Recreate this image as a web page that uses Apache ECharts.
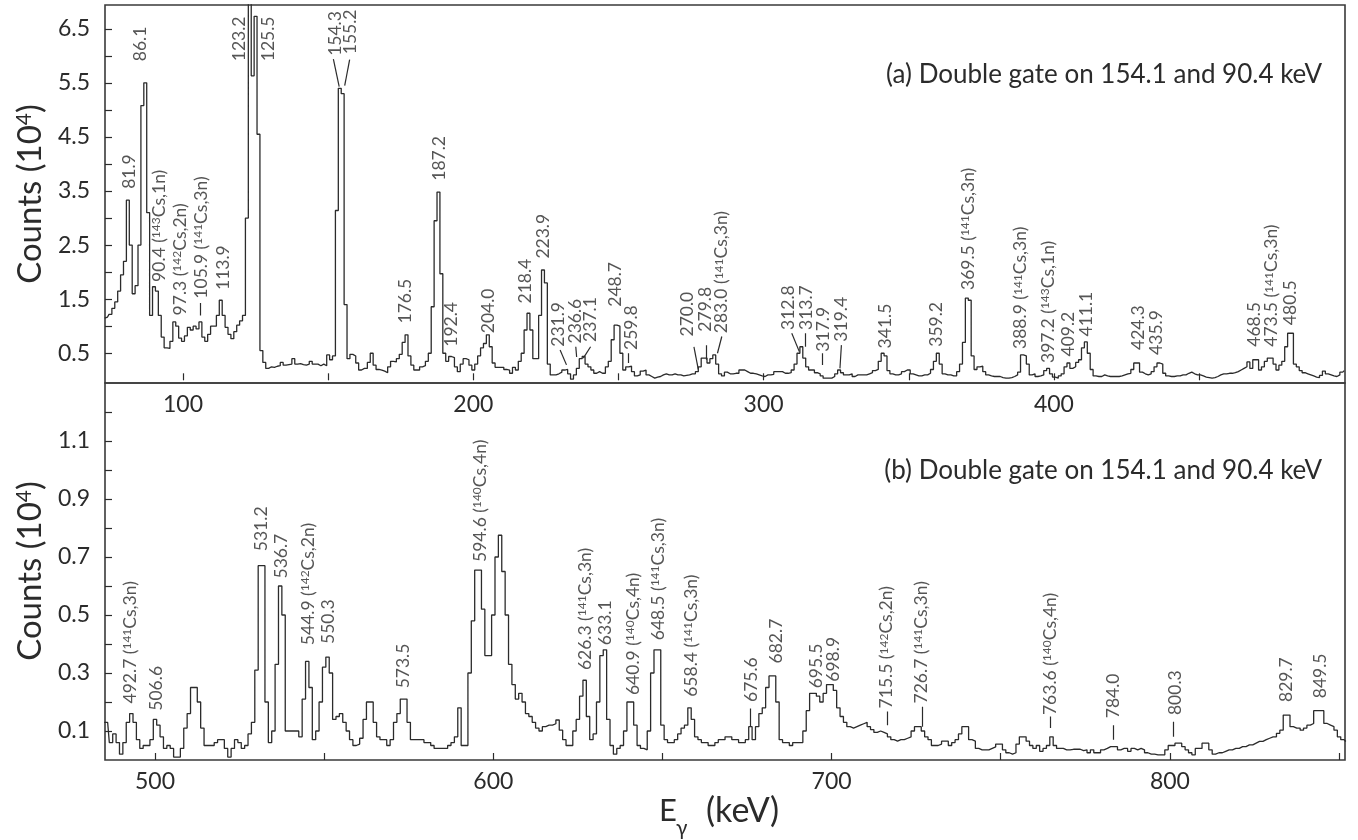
<!DOCTYPE html>
<html><head><meta charset="utf-8">
<script src="https://cdn.jsdelivr.net/npm/echarts@6/dist/echarts.min.js"></script>
<style>html,body{margin:0;padding:0;background:#fff}#c{width:1358px;height:840px}</style>
</head><body><div id="c"></div>
<script>
// ---------- DATA ----------
// Panel (a): 1-keV bins starting at TOP_START (counts in units of 10^4)
const TOP_START = 73;
const topCounts = [
 1.15,1.17,1.22,1.33,1.45,1.65,1.95,2.2,3.33,2.5,      // 73
 1.6,1.75,2.5,5.08,5.5,3.1,1.2,1.73,1.65,1.2,          // 83
 0.8,0.6,0.59,0.72,1.08,1.0,0.78,0.72,0.82,0.98,       // 93
 0.93,1.0,0.95,1.08,0.8,0.72,0.85,1.0,1.0,1.2,         // 103
 1.48,1.2,0.98,0.85,0.77,0.9,1.02,1.1,1.2,3.0,         // 113
 8.0,5.63,6.73,4.55,0.55,0.33,0.22,0.25,0.24,0.26,     // 123
 0.27,0.33,0.28,0.29,0.3,0.4,0.3,0.31,0.29,0.28,       // 133
 0.3,0.35,0.3,0.3,0.27,0.3,0.27,0.47,0.38,0.45,        // 143
 3.14,5.4,5.3,1.4,0.4,0.48,0.45,0.32,0.19,0.22,        // 153
 0.22,0.33,0.5,0.28,0.2,0.19,0.17,0.14,0.25,0.35,      // 163
 0.34,0.4,0.48,0.7,0.84,0.45,0.28,0.19,0.19,0.25,      // 173
 0.27,0.35,0.5,1.36,2.95,3.48,1.97,0.5,0.35,0.44,      // 183
 0.42,0.25,0.16,0.3,0.4,0.38,0.28,0.19,0.3,0.45,       // 193
 0.6,0.68,0.84,0.62,0.32,0.24,0.24,0.24,0.2,0.19,      // 203
 0.13,0.24,0.19,0.35,0.5,0.93,1.24,0.93,0.4,0.4,       // 213
 1.2,2.04,1.8,0.3,0.1,0.1,0.12,0.15,0.19,0.2,          // 223
 0.12,0.02,0.1,0.22,0.4,0.44,0.3,0.25,0.19,0.13,       // 233
 0.16,0.13,0.13,0.25,0.35,0.75,1.02,1.0,0.5,0.19,      // 243
 0.25,0.26,0.16,0.08,0.1,0.17,0.19,0.1,0.07,0.04,      // 253
 0.06,0.07,0.1,0.12,0.1,0.1,0.12,0.1,0.1,0.08,         // 263
 0.09,0.1,0.12,0.12,0.16,0.25,0.41,0.41,0.32,0.4,      // 273
 0.47,0.3,0.12,0.08,0.15,0.12,0.12,0.13,0.13,0.19,     // 283
 0.19,0.16,0.13,0.13,0.12,0.1,0.08,0.07,0.1,0.1,       // 293
 0.11,0.16,0.16,0.16,0.13,0.13,0.14,0.19,0.3,0.5,      // 303
 0.62,0.41,0.25,0.19,0.19,0.14,0.12,0.08,0.04,0.04,    // 313
 0.04,0.07,0.12,0.19,0.14,0.1,0.1,0.12,0.07,0.1,       // 323
 0.1,0.1,0.1,0.12,0.14,0.18,0.2,0.35,0.5,0.45,         // 333
 0.18,0.12,0.1,0.1,0.12,0.16,0.19,0.19,0.12,0.1,       // 343
 0.08,0.08,0.1,0.1,0.13,0.2,0.35,0.5,0.3,0.12,         // 353
 0.1,0.1,0.08,0.08,0.16,0.3,0.7,1.52,1.48,0.45,        // 363
 0.2,0.25,0.26,0.16,0.1,0.08,0.07,0.07,0.07,0.05,      // 373
 0.04,0.04,0.05,0.07,0.1,0.15,0.47,0.45,0.3,0.1,       // 383
 0.12,0.07,0.08,0.1,0.18,0.22,0.12,0.06,0.04,0.08,     // 393
 0.12,0.25,0.32,0.22,0.25,0.33,0.38,0.6,0.71,0.5,      // 403
 0.2,0.08,0.07,0.07,0.1,0.08,0.07,0.07,0.07,0.07,      // 413
 0.08,0.1,0.12,0.13,0.2,0.32,0.32,0.15,0.12,0.1,       // 423
 0.12,0.16,0.25,0.32,0.3,0.13,0.08,0.07,0.07,0.08,     // 433
 0.08,0.1,0.1,0.13,0.15,0.12,0.1,0.1,0.08,0.06,        // 443
 0.05,0.04,0.05,0.07,0.1,0.12,0.12,0.13,0.13,0.14,     // 453
 0.16,0.19,0.22,0.25,0.34,0.22,0.38,0.38,0.19,0.25,    // 463
 0.35,0.41,0.41,0.3,0.19,0.28,0.35,0.62,0.87,0.87,     // 473
 0.3,0.25,0.18,0.14,0.12,0.1,0.08,0.06,0.05,0.09,      // 483
 0.17,0.12,0.1,0.08,0.07,0.1,0.15,0.18                 // 493
];

// Panel (b): 1-keV bins starting at BOTTOM_START
const BOTTOM_START = 485;
const bottomCounts = [
 0.13,0.13,0.06,0.09,0.06,0.02,0.06,0.13,0.16,0.13,    // 485
 0.07,0.04,0.05,0.05,0.07,0.14,0.12,0.08,0.04,0.05,    // 495
 0.04,0.01,0.01,0.04,0.11,0.16,0.25,0.25,0.2,0.11,     // 505
 0.05,0.05,0.05,0.06,0.07,0.07,0.04,0.01,0.04,0.07,    // 515
 0.06,0.04,0.05,0.09,0.13,0.31,0.67,0.67,0.2,0.06,     // 525
 0.1,0.33,0.6,0.5,0.1,0.1,0.1,0.1,0.08,0.21,           // 535
 0.34,0.25,0.07,0.1,0.2,0.32,0.355,0.3,0.14,0.15,      // 545
 0.16,0.13,0.1,0.07,0.05,0.055,0.075,0.14,0.2,0.2,     // 555
 0.13,0.08,0.07,0.07,0.05,0.07,0.13,0.16,0.21,0.21,    // 565
 0.13,0.07,0.07,0.07,0.07,0.06,0.06,0.05,0.04,0.04,    // 575
 0.04,0.04,0.05,0.06,0.08,0.18,0.05,0.05,0.3,0.48,     // 585
 0.655,0.655,0.52,0.36,0.36,0.5,0.7,0.775,0.65,0.5,    // 595
 0.33,0.26,0.21,0.23,0.2,0.16,0.15,0.13,0.11,0.1,      // 605
 0.115,0.12,0.12,0.125,0.138,0.103,0.07,0.05,0.05,0.1, // 615
 0.14,0.22,0.275,0.15,0.07,0.09,0.2,0.36,0.38,0.14,    // 625
 0.05,0.02,0.04,0.05,0.1,0.2,0.2,0.12,0.05,0.04,       // 635
 0.035,0.1,0.3,0.38,0.38,0.12,0.07,0.06,0.06,0.07,     // 645
 0.09,0.11,0.12,0.18,0.14,0.08,0.07,0.06,0.06,0.05,    // 655
 0.05,0.06,0.07,0.07,0.08,0.08,0.07,0.07,0.06,0.06,    // 665
 0.07,0.115,0.07,0.115,0.16,0.18,0.25,0.29,0.29,0.2,   // 675
 0.07,0.06,0.06,0.05,0.06,0.06,0.06,0.1,0.17,0.23,     // 685
 0.23,0.22,0.2,0.23,0.26,0.26,0.24,0.18,0.15,0.13,     // 695
 0.115,0.11,0.115,0.12,0.125,0.13,0.115,0.105,0.095,0.1, // 705
 0.095,0.09,0.08,0.07,0.065,0.07,0.07,0.075,0.08,0.1,  // 715
 0.115,0.115,0.1,0.08,0.07,0.05,0.05,0.055,0.065,0.065, // 725
 0.05,0.06,0.07,0.09,0.115,0.115,0.07,0.065,0.04,0.035, // 735
 0.035,0.035,0.04,0.045,0.055,0.055,0.035,0.025,0.02,0.025, // 745
 0.055,0.08,0.08,0.065,0.05,0.04,0.05,0.03,0.04,0.05,  // 755
 0.08,0.05,0.04,0.04,0.035,0.035,0.037,0.037,0.037,0.032, // 765
 0.035,0.025,0.035,0.025,0.025,0.035,0.04,0.046,0.046,0.046, // 775
 0.035,0.04,0.04,0.03,0.04,0.035,0.04,0.035,0.025,0.02, // 785
 0.02,0.018,0.018,0.018,0.035,0.05,0.05,0.058,0.058,0.046, // 795
 0.035,0.025,0.018,0.04,0.04,0.058,0.058,0.035,0.02,0.025, // 805
 0.025,0.03,0.035,0.035,0.04,0.04,0.046,0.046,0.052,0.052, // 815
 0.058,0.064,0.064,0.07,0.075,0.08,0.08,0.092,0.103,0.155, // 825
 0.155,0.115,0.11,0.11,0.103,0.11,0.12,0.126,0.17,0.17, // 835
 0.17,0.126,0.12,0.115,0.103,0.08,0.07,0.064           // 845
];

// Peak labels: [text, energy, counts at label base]; ^nnn = superscript mass number
const topLabels = [
 ["81.9",81.5,3.54],["86.1",85.4,5.9],["90.4 (^143Cs,1n)",91.8,1.82],["97.3 (^142Cs,2n)",99.0,1.2],
 ["105.9 (^141Cs,3n)",106.4,1.51],["113.9",113.9,1.67],["123.2",119.4,5.9],["125.5",129.4,5.9],
 ["154.3",152.4,6.0],["155.2",157.5,6.03],["176.5",176.5,1.05],["187.2",188.2,3.69],
 ["192.4",192.5,0.62],["204.0",205.2,0.87],["218.4",217.8,1.42],["223.9",224.1,2.25],
 ["231.9",229.3,0.62],["236.6",235.0,0.68],["237.1",240.4,0.71],["248.7",248.8,1.36],
 ["259.8",254.5,0.56],["270.0",273.7,0.81],["279.8",279.8,0.9],["283.0 (^141Cs,3n)",285.6,0.87],
 ["312.8",308.5,0.93],["313.7",314.6,0.93],["317.9",320.6,0.53],["319.4",326.9,0.715],
 ["341.5",341.8,0.59],["359.2",359.6,0.62],["369.5 (^141Cs,3n)",370.5,1.67],["388.9 (^141Cs,3n)",388.6,0.58],
 ["397.2 (^143Cs,1n)",398.0,0.32],["409.2",404.9,0.44],["411.1",411.3,0.81],["424.3",429.0,0.56],
 ["435.9",435.4,0.47],["468.5",469.2,0.62],["473.5 (^141Cs,3n)",475.0,0.62],["480.5",481.3,1.02]
];
const bottomLabels = [
 ["492.7 (^141Cs,3n)",492.6,0.195],["506.6",500.3,0.17],["531.2",531.5,0.72],["536.7",537.4,0.626],
 ["544.9 (^142Cs,2n)",545.3,0.396],["550.3",551.2,0.40],["573.5",573.4,0.247],["594.6 (^140Cs,4n)",596.1,0.683],
 ["626.3 (^141Cs,3n)",627.1,0.31],["633.1",633.0,0.396],["640.9 (^140Cs,4n)",641.4,0.224],["648.5 (^141Cs,3n)",648.8,0.413],
 ["658.4 (^141Cs,3n)",658.4,0.218],["675.6",676.4,0.2],["682.7",683.8,0.333],["695.5",695.6,0.247],
 ["698.9",700.5,0.27],["715.5 (^142Cs,2n)",716.3,0.178],["726.7 (^141Cs,3n)",726.6,0.195],["763.6 (^140Cs,4n)",764.6,0.155],
 ["784.0",783.3,0.144],["800.3",801.5,0.155],["829.7",834.5,0.2],["849.5",844.4,0.213]
];
// Leader lines [[E1,c1],[E2,c2]]
const topLeaders = [
 [[105.9,1.43],[105.9,1.2]],[[151.8,5.94],[153.8,5.43]],[[157.4,5.93],[155.7,5.45]],
 [[229.9,0.56],[232.1,0.285]],[[235.3,0.62],[235.6,0.43]],[[240.4,0.62],[237.9,0.41]],
 [[253.4,0.5],[253.4,0.32]],[[276.0,0.62],[277.5,0.2]],[[280.4,0.65],[280.4,0.38]],
 [[285.6,0.81],[284.1,0.5]],[[309.7,0.87],[312.3,0.53]],[[314.2,0.87],[314.2,0.62]],
 [[320.3,0.5],[320.3,0.285]],[[326.8,0.65],[326.3,0.22]]
];
const bottomLeaders = [
 [[676.1,0.178],[676.1,0.115]],[[716.5,0.167],[716.5,0.12]],[[726.9,0.184],[726.9,0.115]],
 [[764.6,0.15],[764.6,0.11]],[[783.3,0.12],[783.3,0.07]],[[801.0,0.132],[801.0,0.08]]
];
// Axis ticks
const topXTicks = [100,150,200,250,300,350,400,450];
const topXLabels = [100,200,300,400];
const bottomXTicks = [500,550,600,650,700,750,800,850];
const bottomXLabels = [500,600,700,800];
const topYTicks = [0.5,1,1.5,2,2.5,3,3.5,4,4.5,5,5.5,6,6.5];
const topYLabels = [0.5,1.5,2.5,3.5,4.5,5.5,6.5];
const bottomYTicks = [0.1,0.2,0.3,0.4,0.5,0.6,0.7,0.8,0.9,1.0,1.1,1.2];
const bottomYLabels = [0.1,0.3,0.5,0.7,0.9,1.1];

// ---------- CHART ----------
const FONT = "Lato, 'Noto Sans', sans-serif";
const INK = '#2b2b2b';
const chart = echarts.init(document.getElementById('c'), null, {renderer:'canvas'});

function rich(s){
  return s.split(/(\^\d+)/).filter(x=>x).map(p => p[0]==='^' ? '{s|'+p.slice(1)+'}' : '{n|'+p+'}').join('');
}
function xAx(grid, min, max, ticks, labels){
  return {type:'value', gridIndex:grid, min:min, max:max,
    axisLine:{show:false}, splitLine:{show:false},
    axisTick:{show:true, inside:true, length:7, customValues:ticks, lineStyle:{color:INK, width:1.2}},
    axisLabel:{show:true, customValues:labels, margin:10, fontSize:23, fontFamily:FONT, color:INK}};
}
function yAx(grid, min, max, ticks, labels){
  return {type:'value', gridIndex:grid, min:min, max:max,
    axisLine:{show:false}, splitLine:{show:false},
    axisTick:{show:true, inside:true, length:7, customValues:ticks, lineStyle:{color:INK, width:1.2}},
    axisLabel:{show:true, customValues:labels, margin:15, fontSize:23, fontFamily:FONT, color:INK,
      formatter: v => Number(v).toFixed(1)}};
}
function spec(start, arr, idx){
  return {type:'line', xAxisIndex:idx, yAxisIndex:idx, step:'middle', symbol:'none', clip:true,
    lineStyle:{color:INK, width:1.3}, data: arr.map((v,i)=>[start+i, v]), silent:true};
}
function labels(list, idx){
  return {type:'scatter', xAxisIndex:idx, yAxisIndex:idx, symbolSize:1, silent:true,
    itemStyle:{color:'rgba(0,0,0,0)'},
    data: list.map(l=>({name:l[0], value:[l[1], l[2]]})),
    label:{show:true, position:'inside', rotate:90, align:'left', verticalAlign:'middle', distance:0,
      formatter: p => rich(p.name),
      rich:{ n:{fontSize:17.5, fontFamily:FONT, color:INK, lineHeight:18},
             s:{fontSize:12, fontFamily:FONT, color:INK, verticalAlign:'top'} }}};
}
function leaders(list, idx){
  return {type:'lines', coordinateSystem:'cartesian2d', xAxisIndex:idx, yAxisIndex:idx, silent:true,
    lineStyle:{color:INK, width:1.2, opacity:1, curveness:0},
    data: list.map(c=>({coords:c}))};
}
const yTitle = (y) => ({type:'text', x:30, y:y, rotation:Math.PI/2,
  style:{text:'{a|Counts (10}{b|4}{a|)}', align:'center', verticalAlign:'middle', textAlign:'center', textVerticalAlign:'middle',
    rich:{a:{fontSize:33, fontFamily:FONT, fill:INK, color:INK, lineHeight:33}, b:{fontSize:21, fontFamily:FONT, fill:INK, color:INK, verticalAlign:'top'}}}});
const txt = (x, y, s, size, align) => ({type:'text', x:x, y:y,
  style:{text:s, font:size+'px '+FONT, fill:INK, align:align, verticalAlign:'middle', textAlign:align, textVerticalAlign:'middle'}});

chart.setOption({
  animation:false,
  backgroundColor:'#fff',
  grid:[
    {left:105, top:5, width:1240, height:378, show:true, borderColor:'#3a3a3a', borderWidth:1.6, backgroundColor:'transparent'},
    {left:105, top:383, width:1240, height:377, show:true, borderColor:'#3a3a3a', borderWidth:1.6, backgroundColor:'transparent'}
  ],
  xAxis:[ xAx(0, 73.13, 500.27, topXTicks, topXLabels), xAx(1, 485.22, 851.76, bottomXTicks, bottomXLabels) ],
  yAxis:[ yAx(0, -0.05, 6.94, topYTicks, topYLabels), yAx(1, 0, 1.3, bottomYTicks, bottomYLabels) ],
  series:[
    spec(TOP_START, topCounts, 0),
    spec(BOTTOM_START, bottomCounts, 1),
    labels(topLabels, 0),
    labels(bottomLabels, 1),
    leaders(topLeaders, 0),
    leaders(bottomLeaders, 1)
  ],
  graphic:[
    yTitle(194), yTitle(571),
    txt(1322, 75, '(a) Double gate on 154.1 and 90.4 keV', 26, 'right'),
    txt(1322, 471, '(b) Double gate on 154.1 and 90.4 keV', 26, 'right'),
    txt(659, 811, 'E', 31, 'left'),
    txt(676, 828, 'γ', 21, 'left'),
    txt(706, 811, '(keV)', 34, 'left')
  ]
});
</script>
</body></html>
